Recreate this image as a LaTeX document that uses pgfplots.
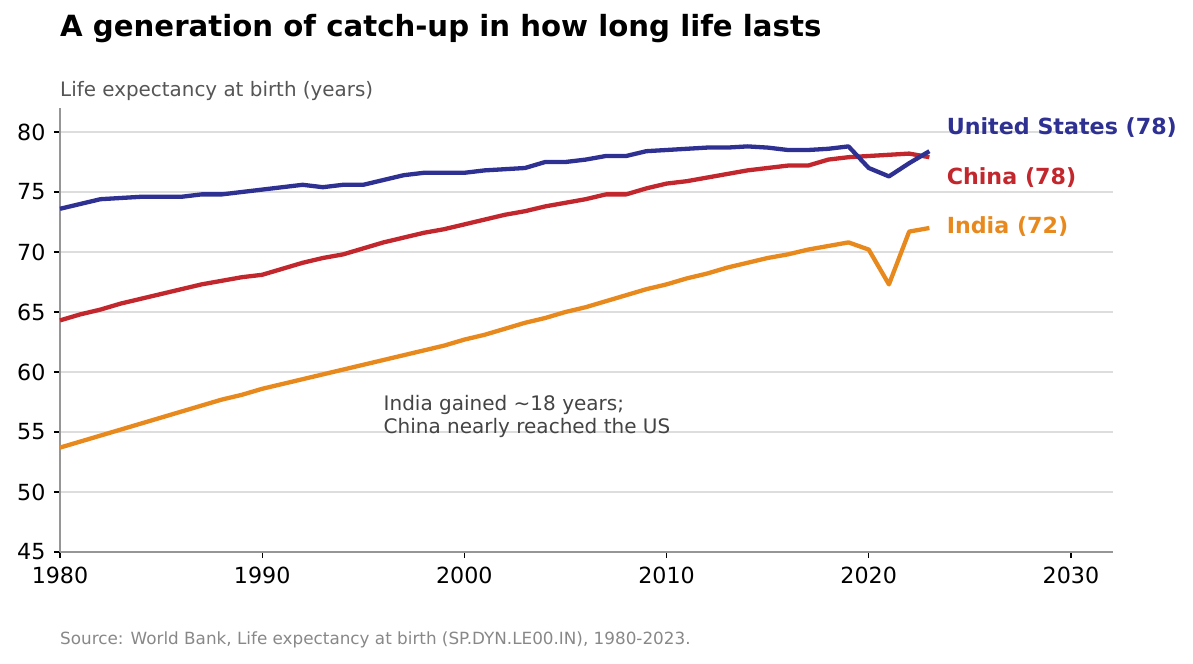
\documentclass[border=0pt]{standalone}
\usepackage{pgfplots}
\usepackage{pgfplotstable}
\pgfplotsset{compat=1.18}
\usepackage{fontspec}
\setmainfont{DejaVu Sans}

\definecolor{usblue}{RGB}{46,49,146}
\definecolor{cnred}{RGB}{193,39,45}
\definecolor{inorange}{RGB}{232,137,30}
\definecolor{gridgray}{RGB}{221,221,221}
\definecolor{spinegray}{RGB}{150,150,150}
\definecolor{notegray}{RGB}{68,68,68}
\definecolor{labelgray}{RGB}{85,85,85}
\definecolor{sourcegray}{RGB}{136,136,136}

% Life expectancy at birth (years), World Bank
\pgfplotstableread{
year us
1980 73.6
1981 74.0
1982 74.4
1983 74.5
1984 74.6
1985 74.6
1986 74.6
1987 74.8
1988 74.8
1989 75.0
1990 75.2
1991 75.4
1992 75.6
1993 75.4
1994 75.6
1995 75.6
1996 76.0
1997 76.4
1998 76.6
1999 76.6
2000 76.6
2001 76.8
2002 76.9
2003 77.0
2004 77.5
2005 77.5
2006 77.7
2007 78.0
2008 78.0
2009 78.4
2010 78.5
2011 78.6
2012 78.7
2013 78.7
2014 78.8
2015 78.7
2016 78.5
2017 78.5
2018 78.6
2019 78.8
2020 77.0
2021 76.3
2022 77.4
2023 78.4
}\usdata

\pgfplotstableread{
year cn
1980 64.3
1981 64.8
1982 65.2
1983 65.7
1984 66.1
1985 66.5
1986 66.9
1987 67.3
1988 67.6
1989 67.9
1990 68.1
1991 68.6
1992 69.1
1993 69.5
1994 69.8
1995 70.3
1996 70.8
1997 71.2
1998 71.6
1999 71.9
2000 72.3
2001 72.7
2002 73.1
2003 73.4
2004 73.8
2005 74.1
2006 74.4
2007 74.8
2008 74.8
2009 75.3
2010 75.7
2011 75.9
2012 76.2
2013 76.5
2014 76.8
2015 77.0
2016 77.2
2017 77.2
2018 77.7
2019 77.9
2020 78.0
2021 78.1
2022 78.2
2023 77.9
}\cndata

\pgfplotstableread{
year in
1980 53.7
1981 54.2
1982 54.7
1983 55.2
1984 55.7
1985 56.2
1986 56.7
1987 57.2
1988 57.7
1989 58.1
1990 58.6
1991 59.0
1992 59.4
1993 59.8
1994 60.2
1995 60.6
1996 61.0
1997 61.4
1998 61.8
1999 62.2
2000 62.7
2001 63.1
2002 63.6
2003 64.1
2004 64.5
2005 65.0
2006 65.4
2007 65.9
2008 66.4
2009 66.9
2010 67.3
2011 67.8
2012 68.2
2013 68.7
2014 69.1
2015 69.5
2016 69.8
2017 70.2
2018 70.5
2019 70.8
2020 70.2
2021 67.3
2022 71.7
2023 72.0
}\indata

\begin{document}
\begin{tikzpicture}
\useasboundingbox (0,0) rectangle (1193bp,664bp);

% titles and source line
\node[anchor=base west, inner sep=0pt, font=\bfseries\fontsize{29.2bp}{33bp}\selectfont]
  at (60bp,627bp) {A generation of catch-up in how long life lasts};
\node[anchor=base west, inner sep=0pt, text=labelgray, font=\fontsize{19.9bp}{23bp}\selectfont]
  at (60bp,567bp) {Life expectancy at birth (years)};
\node[anchor=base west, inner sep=0pt, text=sourcegray, font=\fontsize{16.8bp}{19bp}\selectfont]
  at (60bp,20bp) {Source: World Bank, Life expectancy at birth (SP.DYN.LE00.IN), 1980-2023.};

\begin{axis}[
  at={(60bp,112bp)}, anchor=south west,
  width=1053bp, height=444bp, scale only axis,
  xmin=1980, xmax=2032.08, ymin=45, ymax=82,
  xtick={1980,1990,2000,2010,2020,2030},
  ytick={45,50,55,60,65,70,75,80},
  axis x line*=bottom, axis y line*=left,
  axis line style={spinegray, line width=1.3bp},
  tick align=outside, major tick length=6bp,
  tick style={black, line width=1.2bp},
  ymajorgrids, grid style={gridgray, line width=1.3bp},
  /pgf/number format/1000 sep={},
  /pgf/number format/assume math mode=true,
  tick label style={font=\fontsize{22.2bp}{26bp}\selectfont},
  xticklabel style={yshift=-6bp},
  yticklabel style={xshift=-5bp},
  clip=false,
  line join=round,
]
\addplot[inorange, line width=4.3bp] table[x=year, y=in] {\indata};
\addplot[cnred, line width=4.3bp] table[x=year, y=cn] {\cndata};
\addplot[usblue, line width=4.3bp] table[x=year, y=us] {\usdata};

\node[anchor=west, inner sep=0pt, text=usblue, font=\bfseries\fontsize{22.2bp}{26bp}\selectfont]
  at (axis cs:2023.85,80.4) {United States (78)};
\node[anchor=west, inner sep=0pt, text=cnred, font=\bfseries\fontsize{22.2bp}{26bp}\selectfont]
  at (axis cs:2023.85,76.2) {China (78)};
\node[anchor=west, inner sep=0pt, text=inorange, font=\bfseries\fontsize{22.2bp}{26bp}\selectfont]
  at (axis cs:2023.85,72.1) {India (72)};

\node[anchor=north west, inner sep=0pt, align=left, text=notegray,
      font=\fontsize{20bp}{23bp}\selectfont]
  at (axis cs:1996,58.1) {India gained \textasciitilde18 years;\\China nearly reached the US};
\end{axis}
\end{tikzpicture}
\end{document}
